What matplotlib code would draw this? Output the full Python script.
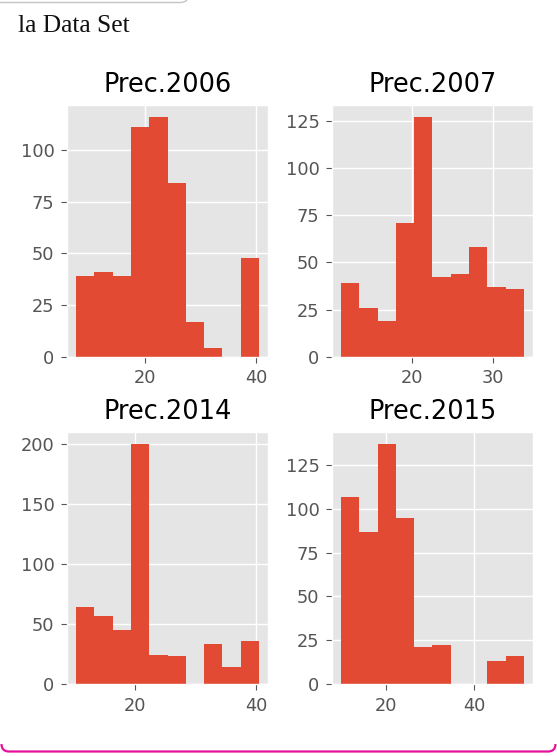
#!/usr/bin/env python3
"""
Precipitation histograms for four years (2006, 2007, 2014, 2015),
drawn in the ggplot style as a 2x2 grid under a small section header.
"""

import numpy as np
import matplotlib
matplotlib.use('Agg')
import matplotlib.pyplot as plt
from matplotlib.path import Path
from matplotlib.patches import PathPatch
from matplotlib.ticker import MaxNLocator

# Figure size in pixels (saved at 100 dpi)
FIG_W, FIG_H = 557, 756
DPI = 100

# Data: one histogram per year, 10 equal-width bins between lo and hi
YEARS = ["Prec.2006", "Prec.2007", "Prec.2014", "Prec.2015"]
BIN_LO = [7.65, 11.3, 10.38, 9.96]
BIN_HI = [40.47, 33.8, 40.43, 51.15]
COUNTS_2006 = [39, 41, 39, 111, 116, 84, 17, 4, 0, 48]
COUNTS_2007 = [39, 26, 19, 71, 127, 42, 44, 58, 37, 36]
COUNTS_2014 = [64, 57, 45, 200, 24, 23, 0, 33, 14, 36]
COUNTS_2015 = [107, 87, 137, 95, 21, 22, 0, 0, 13, 16]
COUNTS = [COUNTS_2006, COUNTS_2007, COUNTS_2014, COUNTS_2015]
N_BINS = 10

HEADER = "la Data Set"
BAR_COLOR = '#E24A33'
FRAME_GRAY = '#c4c4c4'
FRAME_PINK = '#e6119a'
TICK_STEPS = [1, 2, 2.5, 5, 10]


def px(x, y):
    """Pixel position (from top-left) -> figure fraction"""
    return x / FIG_W, 1 - y / FIG_H


def draw_frame(fig):
    """Notebook cell chrome: grey box edge on top, pink border at the bottom"""
    # grey rounded corner of the previous cell
    verts = [px(-5, 2.5), px(180, 2.5), px(189, 2.5), px(189, -6)]
    codes = [Path.MOVETO, Path.LINETO, Path.CURVE3, Path.CURVE3]
    fig.patches.append(PathPatch(Path(verts, codes), transform=fig.transFigure,
                                 facecolor='none', edgecolor=FRAME_GRAY, lw=1.0))

    # pink bottom border with rounded ends
    verts = [px(1.5, 744), px(1.5, 751.5), px(9, 751.5),
             px(548, 751.5), px(555.5, 751.5), px(555.5, 744)]
    codes = [Path.MOVETO, Path.CURVE3, Path.CURVE3,
             Path.LINETO, Path.CURVE3, Path.CURVE3]
    fig.patches.append(PathPatch(Path(verts, codes), transform=fig.transFigure,
                                 facecolor='none', edgecolor=FRAME_PINK, lw=1.6))

    x, y = px(18, 32)
    fig.text(x, y, HEADER, fontsize=18.4, family='Liberation Serif',
             color='#111111', va='baseline', ha='left')


def draw_hist(ax, title, lo, hi, counts):
    """Histogram from pre-binned counts"""
    edges = np.linspace(lo, hi, N_BINS + 1)
    ax.hist(edges[:-1], bins=edges, weights=counts, color=BAR_COLOR)
    ax.xaxis.set_major_locator(MaxNLocator(nbins=3, steps=TICK_STEPS))
    ax.yaxis.set_major_locator(MaxNLocator(nbins=6, steps=TICK_STEPS))
    ax.set_title(title, pad=9.5)


def main():
    plt.style.use('ggplot')
    plt.rcParams['font.size'] = 12.8
    plt.rcParams['xtick.major.size'] = 4.5
    plt.rcParams['ytick.major.size'] = 4.5
    plt.rcParams['xtick.major.pad'] = 4.5
    plt.rcParams['ytick.major.pad'] = 4.5
    plt.rcParams['grid.linewidth'] = 1.0

    fig, axes = plt.subplots(2, 2, figsize=(FIG_W / DPI, FIG_H / DPI), dpi=DPI)
    fig.subplots_adjust(left=67 / FIG_W, right=533 / FIG_W,
                        top=1 - 105 / FIG_H, bottom=1 - 684 / FIG_H,
                        wspace=0.318, hspace=0.30)

    for ax, title, lo, hi, counts in zip(axes.flat, YEARS, BIN_LO, BIN_HI, COUNTS):
        draw_hist(ax, title, lo, hi, counts)

    draw_frame(fig)

    fig.savefig('out.png', dpi=DPI, facecolor='white')
    plt.close(fig)


if __name__ == "__main__":
    main()
